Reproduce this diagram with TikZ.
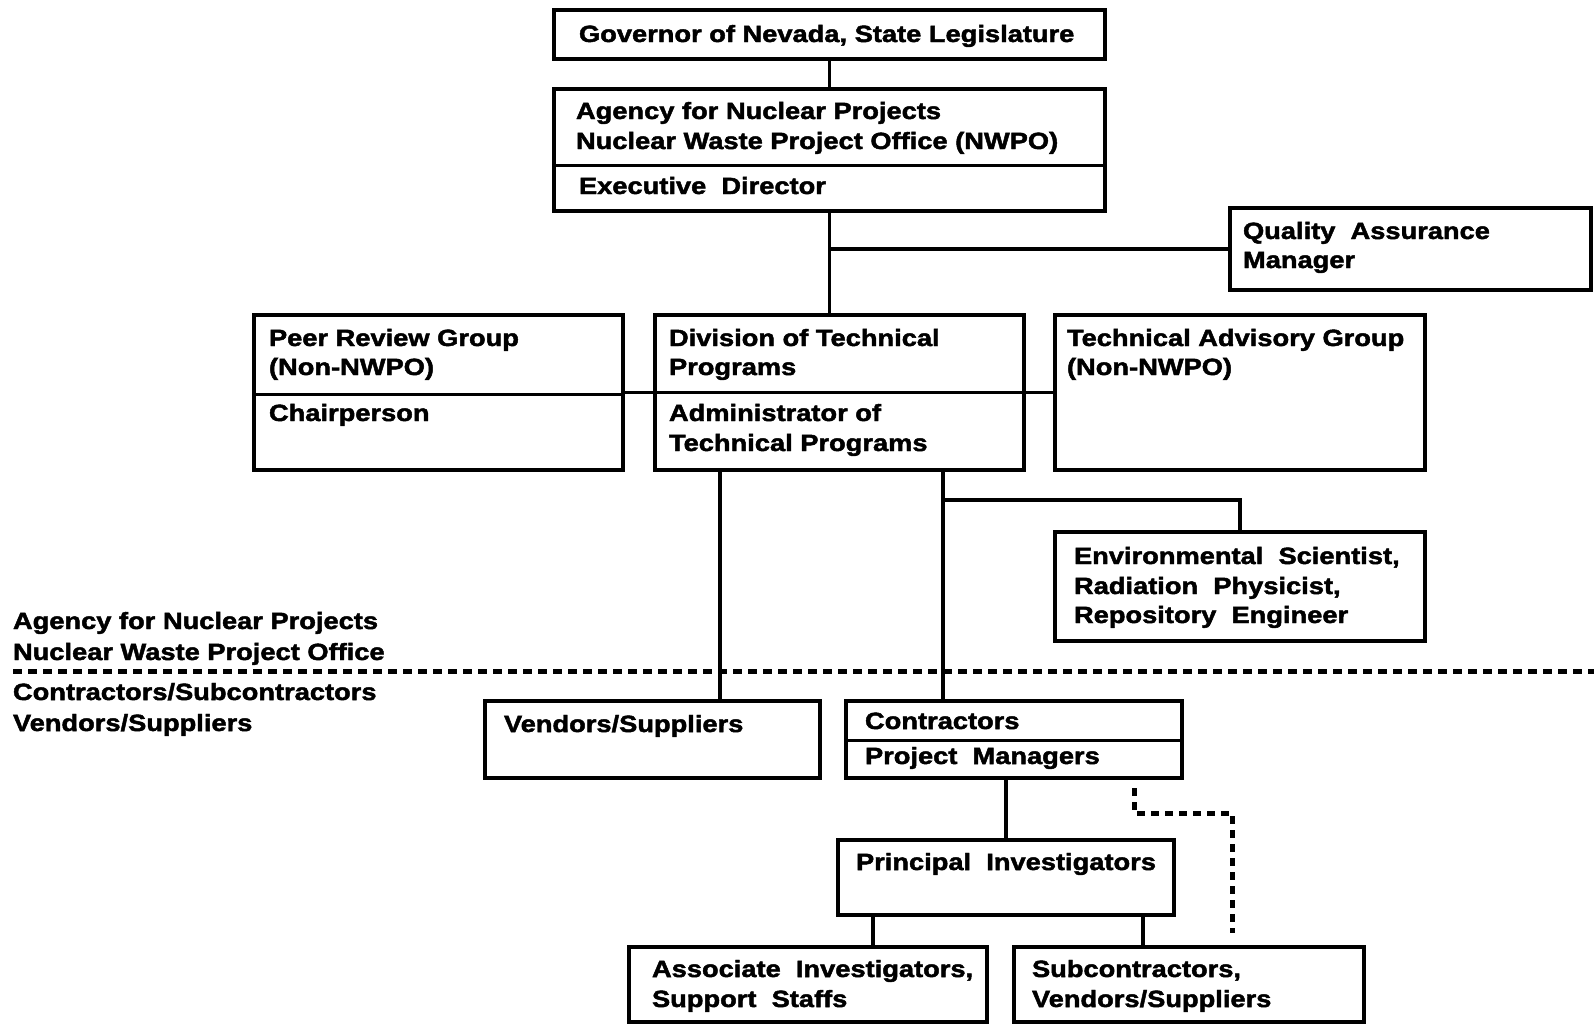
\documentclass[tikz,border=0pt]{standalone}
\usepackage{fontspec}
\newfontfamily\chartfont{Liberation Sans}[FakeStretch=1.16,FakeBold=2]
\begin{document}
\begin{tikzpicture}[x=1pt,y=1pt,
  box/.style={draw, line width=3.5pt, anchor=north west, inner sep=0pt, outer sep=0pt},
  txt/.style={anchor=base west, inner sep=0pt, outer sep=0pt, font=\chartfont\bfseries\fontsize{23.5}{30}\selectfont},
  link/.style={line width=3.5pt},
  divider/.style={line width=3pt},
  sepline/.style={line width=5pt, dash pattern=on 9pt off 6pt},
  dotlink/.style={line width=5pt, dash pattern=on 8pt off 6pt}]
\useasboundingbox[fill=white] (0,0) rectangle (1594,-1026);

% boxes
\node[box, minimum width=551pt, minimum height=49pt] (gov) at (554,-10) {};
\node[box, minimum width=551pt, minimum height=122pt] (agency) at (554,-89) {};
\node[box, minimum width=361pt, minimum height=82pt] (qa) at (1230,-208) {};
\node[box, minimum width=369pt, minimum height=155pt] (peer) at (254,-315) {};
\node[box, minimum width=369pt, minimum height=155pt] (div) at (655,-315) {};
\node[box, minimum width=370pt, minimum height=155pt] (tag) at (1055,-315) {};
\node[box, minimum width=370pt, minimum height=109pt] (env) at (1055,-532) {};
\node[box, minimum width=335pt, minimum height=77pt] (vend) at (485,-701) {};
\node[box, minimum width=336pt, minimum height=77pt] (contr) at (846,-701) {};
\node[box, minimum width=336pt, minimum height=75pt] (pi) at (838,-840) {};
\node[box, minimum width=358pt, minimum height=75pt] (assoc) at (629,-947) {};
\node[box, minimum width=350pt, minimum height=75pt] (subcon) at (1014,-947) {};

% dividers inside boxes
\draw[divider] (agency.west |- 0,-165) -- (agency.east |- 0,-165);
\draw[divider] (peer.west |- 0,-394) -- (peer.east |- 0,-394);
\draw[divider] (div.west |- 0,-392) -- (div.east |- 0,-392);
\draw[divider] (contr.west |- 0,-740) -- (contr.east |- 0,-740);

% texts
\node[txt] (t-gov) at (579,-42) {Governor of Nevada, State Legislature};
\node[txt] (t-ag1) at (576,-119) {Agency for Nuclear Projects};
\node[txt] (t-ag2) at (576,-149) {Nuclear Waste Project Office (NWPO)};
\node[txt] (t-ag3) at (579,-194) {Executive\ \ Director};
\node[txt] (t-qa1) at (1243,-239) {Quality\ \ Assurance};
\node[txt] (t-qa2) at (1243,-268) {Manager};
\node[txt] (t-pe1) at (269,-346) {Peer Review Group};
\node[txt] (t-pe2) at (269,-375) {(Non-NWPO)};
\node[txt] (t-pe3) at (269,-421) {Chairperson};
\node[txt] (t-dv1) at (669,-346) {Division of Technical};
\node[txt] (t-dv2) at (669,-375) {Programs};
\node[txt] (t-dv3) at (669,-421) {Administrator of};
\node[txt] (t-dv4) at (669,-451) {Technical Programs};
\node[txt] (t-tg1) at (1067,-346) {Technical Advisory Group};
\node[txt] (t-tg2) at (1067,-375) {(Non-NWPO)};
\node[txt] (t-en1) at (1074,-564) {Environmental\ \ Scientist,};
\node[txt] (t-en2) at (1074,-594) {Radiation\ \ Physicist,};
\node[txt] (t-en3) at (1074,-623) {Repository\ \ Engineer};
\node[txt] (t-lf1) at (13,-629) {Agency for Nuclear Projects};
\node[txt] (t-lf2) at (13,-660) {Nuclear Waste Project Office};
\node[txt] (t-lf3) at (13,-700) {Contractors/Subcontractors};
\node[txt] (t-lf4) at (13,-731) {Vendors/Suppliers};
\node[txt] (t-ve1) at (504,-732) {Vendors/Suppliers};
\node[txt] (t-co1) at (865,-729) {Contractors};
\node[txt] (t-co2) at (865,-764) {Project\ \ Managers};
\node[txt] (t-pi1) at (856,-870) {Principal\ \ Investigators};
\node[txt] (t-as1) at (652,-977) {Associate\ \ Investigators,};
\node[txt] (t-as2) at (652,-1007) {Support\ \ Staffs};
\node[txt] (t-su1) at (1032,-977) {Subcontractors,};
\node[txt] (t-su2) at (1032,-1007) {Vendors/Suppliers};

% dashed separation line
\coordinate (sepL) at (13,-671);
\coordinate (sepR) at (1594,-671);
\draw[sepline] (sepL) -- (sepR);

% connectors
\draw[link] (gov.south) -- (agency.north);
\draw[link] (agency.south) -- (agency.south |- div.north);
\draw[link] (agency.south |- qa.west) -- (qa.west);
\draw[link] (peer.east) -- (div.west);
\draw[link] (div.east) -- (tag.west);
\coordinate (dvA) at ([xshift=65pt]div.south west);
\coordinate (dvB) at ([xshift=288pt]div.south west);
\draw[link] (dvA) -- (dvA |- vend.north);
\draw[link] (dvB) -- (dvB |- contr.north);
\coordinate (envJ) at ([yshift=-30pt]dvB);
\draw[link] (envJ) -- (envJ -| env.north) -- (env.north);
\draw[link] (pi.north |- contr.south) -- (pi.north);
\coordinate (piA) at ([xshift=35pt]pi.south west);
\coordinate (piB) at ([xshift=-31pt]pi.south east);
\draw[link] (piA) -- (piA |- assoc.north);
\draw[link] (piB) -- (piB |- subcon.north);
\coordinate (dA) at ([xshift=-48pt,yshift=-10pt]contr.south east);
\coordinate (dB) at ([xshift=-132pt,yshift=14pt]subcon.north east);
\draw[dotlink] (dA) -- ([yshift=-25pt]dA) -| (dB);
\end{tikzpicture}
\end{document}
